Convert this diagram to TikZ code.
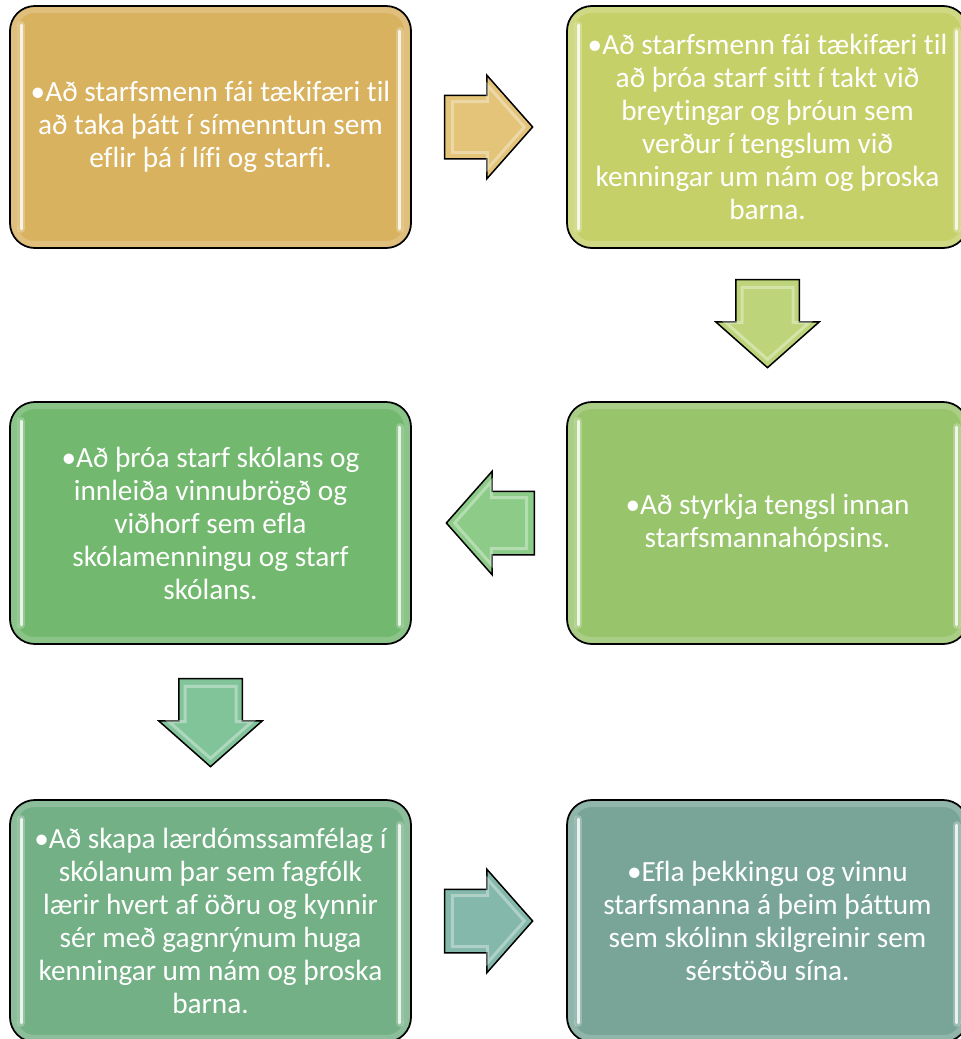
\documentclass[tikz,border=0pt]{standalone}
\usepackage{fontspec}
\setmainfont{Carlito}[Ligatures={NoCommon}]
\usetikzlibrary{shapes.arrows,calc}
\definecolor{cA}{HTML}{D8B25F}
\definecolor{cB}{HTML}{C5D068}
\definecolor{cC}{HTML}{98C46B}
\definecolor{cD}{HTML}{72B86E}
\definecolor{cE}{HTML}{73B085}
\definecolor{cF}{HTML}{78A598}
\definecolor{aA}{HTML}{E3C479}
\definecolor{aB}{HTML}{BDD47A}
\definecolor{aC}{HTML}{8DCB88}
\definecolor{aD}{HTML}{82C49A}
\definecolor{aE}{HTML}{84B8AA}
\tikzset{
  stagebox/.style={draw=black, line width=1.8pt, rounded corners=25pt,
    minimum width=401pt, minimum height=242pt, inner sep=0pt,
    text=white, align=center, font=\fontsize{29.3}{33}\selectfont},
  hl/.style={line width=3pt, draw=white, opacity=0.8, line cap=round},
  hlglow/.style={line width=8pt, draw=white, opacity=0.25, line cap=round},
  innerglow/.style={line width=6pt, draw=white, opacity=0.18, rounded corners=20pt},
  blockarrow/.style={single arrow, draw=black, line width=1.5pt,
    single arrow tip angle=97, single arrow head extend=20pt,
    minimum height=88pt, inner xsep=0pt, inner ysep=31pt, anchor=tail},
  bevel/.style={single arrow, draw=white, draw opacity=0.35, line width=3pt,
    single arrow tip angle=97, single arrow head extend=16pt,
    minimum height=72pt, inner xsep=0pt, inner ysep=24pt, anchor=tail}
}
\newcommand{\gloss}[1]{%
  \draw[innerglow] ([xshift=5pt,yshift=-5pt]#1.north west) rectangle ([xshift=-5pt,yshift=5pt]#1.south east);
  \draw[hlglow] ([xshift=12pt,yshift=-20pt]#1.north west) -- ([xshift=12pt,yshift=20pt]#1.south west);
  \draw[hl] ([xshift=12pt,yshift=-20pt]#1.north west) -- ([xshift=12pt,yshift=20pt]#1.south west);
  \draw[hlglow] ([xshift=-12pt,yshift=-26pt]#1.north east) -- ([xshift=-12pt,yshift=20pt]#1.south east);
  \draw[hl] ([xshift=-12pt,yshift=-26pt]#1.north east) -- ([xshift=-12pt,yshift=20pt]#1.south east);
}
\newcommand{\abevel}[2]{%
  \node[bevel, rotate=#2] at ($(#1.tail)!7pt!(#1.tip)$) {};
}
\begin{document}
\begin{tikzpicture}[x=1pt,y=-1pt]
\useasboundingbox (0,0) rectangle (961,1039);
\fill[white] (0,0) rectangle (961,1039);
\node[stagebox, fill=cA] (b1) at (210.5,127) {•Að starfsmenn fái tækifæri til\\að taka þátt í símenntun sem\\eflir þá í lífi og starfi.};
\node[stagebox, fill=cB] (b2) at (767.5,127) {•Að starfsmenn fái tækifæri til\\að þróa starf sitt í takt við\\breytingar og þróun sem\\verður í tengslum við\\kenningar um nám og þroska\\barna.};
\node[stagebox, fill=cC] (b3) at (767.5,523) {•Að styrkja tengsl innan\\starfsmannahópsins.};
\node[stagebox, fill=cD] (b4) at (210.5,523) {•Að þróa starf skólans og\\innleiða vinnubrögð og\\viðhorf sem efla\\skólamenningu og starf\\skólans.};
\node[stagebox, fill=cE] (b5) at (210.5,921) {•Að skapa lærdómssamfélag í\\skólanum þar sem fagfólk\\lærir hvert af öðru og kynnir\\sér með gagnrýnum huga\\kenningar um nám og þroska\\barna.};
\node[stagebox, fill=cF] (b6) at (767.5,921) {•Efla þekkingu og vinnu\\starfsmanna á þeim þáttum\\sem skólinn skilgreinir sem\\sérstöðu sína.};
\gloss{b1}\gloss{b2}\gloss{b3}\gloss{b4}\gloss{b5}\gloss{b6}
\node[blockarrow, fill=aA] (a1) at ([xshift=32pt]b1.east) {};
\node[blockarrow, fill=aB, rotate=-90] (a2) at ([yshift=-30pt]b2.south) {};
\node[blockarrow, fill=aC, rotate=180] (a3) at ([xshift=-31pt]b3.west) {};
\node[blockarrow, fill=aD, rotate=-90] (a4) at ([yshift=-33pt]b4.south) {};
\node[blockarrow, fill=aE] (a5) at ([xshift=32pt]b5.east) {};
\abevel{a1}{0}\abevel{a2}{-90}\abevel{a3}{180}\abevel{a4}{-90}\abevel{a5}{0}
\end{tikzpicture}
\end{document}
